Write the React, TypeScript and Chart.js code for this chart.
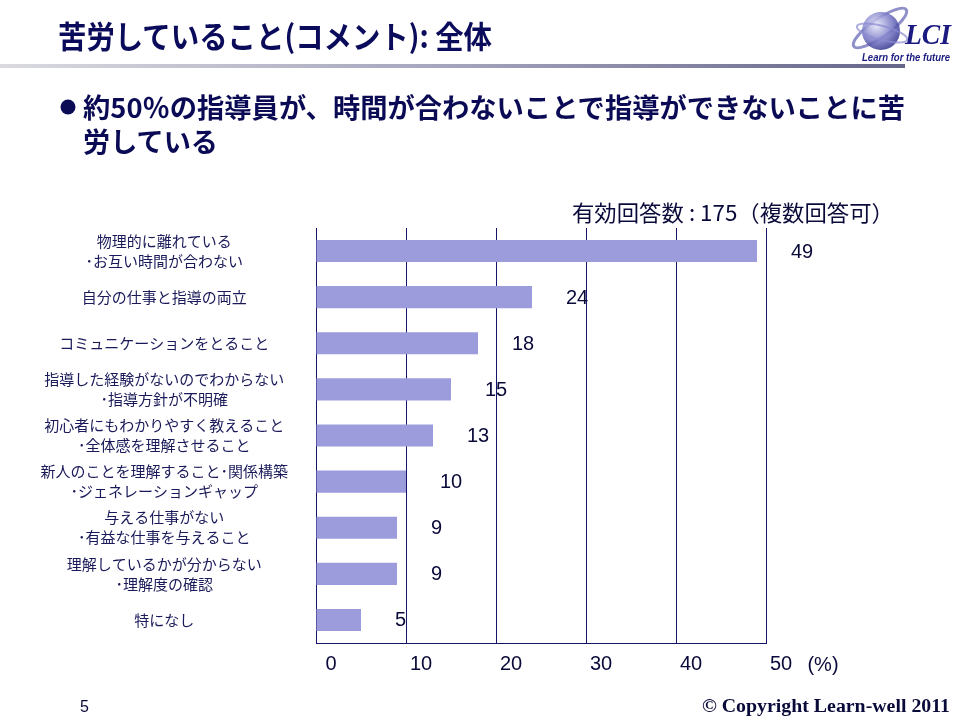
import React, { useEffect, useRef } from "react";
import { Chart, registerables } from "chart.js";

Chart.register(...registerables);

const categories: string[][] = [
  ["物理的に離れている", "･お互い時間が合わない"],
  ["自分の仕事と指導の両立"],
  ["コミュニケーションをとること"],
  ["指導した経験がないのでわからない", "･指導方針が不明確"],
  ["初心者にもわかりやすく教えること", "･全体感を理解させること"],
  ["新人のことを理解すること･関係構築", "･ジェネレーションギャップ"],
  ["与える仕事がない", "･有益な仕事を与えること"],
  ["理解しているかが分からない", "･理解度の確認"],
  ["特になし"],
];
const values: number[] = [49, 24, 18, 15, 13, 10, 9, 9, 5];
const xMin = 0;
const xMax = 50;
const xStep = 10;
const unitLabel = "(%)";
const titleText = "苦労していること(コメント): 全体";
const bulletLine1 = "約50％の指導員が、時間が合わないことで指導ができないことに苦";
const bulletLine2 = "労している";
const noteText = "有効回答数 : 175（複数回答可）";
const pageNumber = "5";
const copyrightText = "© Copyright Learn-well 2011";

const NAVY = "#14146a";
const BAR = "#9c9cdc";
const CJK = '"Noto Sans CJK JP", "Noto Sans", sans-serif';
const SANS = '"Liberation Sans", Arial, sans-serif';

const labelPlugin = {
  id: "valueLabels",
  afterDatasetsDraw(chart: any) {
    const ctx = chart.ctx;
    const meta = chart.getDatasetMeta(0);
    ctx.save();
    ctx.font = `20px ${SANS}`;
    ctx.fillStyle = "#0a0a3a";
    ctx.textAlign = "left";
    ctx.textBaseline = "middle";
    meta.data.forEach((bar: any, i: number) => {
      ctx.fillText(String(values[i]), bar.x + 34, bar.y + 1);
    });
    const xs = chart.scales.x;
    ctx.textAlign = "center";
    ctx.fillText(unitLabel, xs.getPixelForValue(xMax) + 57, xs.top + 22);
    ctx.restore();
  },
};

export default function App() {
  const ref = useRef<HTMLCanvasElement | null>(null);
  useEffect(() => {
    if (!ref.current) return;
    const chart = new Chart(ref.current, {
      type: "bar",
      data: {
        labels: categories,
        datasets: [
          {
            data: values,
            backgroundColor: BAR,
            borderWidth: 0,
            categoryPercentage: 1,
            barPercentage: 0.48,
          },
        ],
      },
      options: {
        indexAxis: "y",
        responsive: false,
        animation: false,
        devicePixelRatio: 1,
        layout: { padding: { left: 0, right: 194, top: 228, bottom: 27 } },
        plugins: {
          legend: { display: false },
          tooltip: { enabled: false },
        },
        scales: {
          x: {
            min: xMin,
            max: xMax,
            ticks: {
              stepSize: xStep,
              labelOffset: 15,
              padding: 9,
              color: "#0a0a3a",
              font: { family: SANS, size: 20 },
              maxRotation: 0,
            },
            grid: { color: NAVY, lineWidth: 1, drawTicks: false },
            border: { display: true, color: NAVY, width: 1 },
            afterFit: (s: any) => {
              s.height = 50;
            },
          },
          y: {
            ticks: {
              crossAlign: "center",
              padding: 28,
              color: "#1a1a5a",
              font: { family: CJK, size: 15, lineHeight: 1.33 },
              autoSkip: false,
            },
            grid: { display: false, drawTicks: false },
            border: { display: true, color: NAVY, width: 1 },
            afterFit: (s: any) => {
              s.width = 316;
            },
          },
        },
      } as any,
      plugins: [labelPlugin],
    });
    return () => chart.destroy();
  }, []);

  return (
    <div
      style={{
        position: "fixed",
        left: 0,
        top: 0,
        width: 960,
        height: 720,
        background: "#ffffff",
        overflow: "hidden",
      }}
    >
      <canvas
        ref={ref}
        width={960}
        height={720}
        style={{ position: "absolute", left: 0, top: 0, width: 960, height: 720 }}
      />
      <div
        style={{
          position: "absolute",
          left: 0,
          top: 64,
          width: 905,
          height: 4,
          background: "linear-gradient(to right, #dadae0, #a4a4bc 50%, #65658a)",
        }}
      />
      <svg
        width={960}
        height={720}
        style={{ position: "absolute", left: 0, top: 0, pointerEvents: "none" }}
      >
        <defs>
          <radialGradient id="sph" cx="38%" cy="35%" r="65%">
            <stop offset="0" stopColor="#e6e6fa" />
            <stop offset="0.6" stopColor="#7c7cc8" />
            <stop offset="1" stopColor="#3a3a96" />
          </radialGradient>
        </defs>
        <text
          x={58}
          y={48}
          fontFamily={CJK}
          fontWeight="bold"
          fontSize={31}
          fill="#0b0b5b"
          textLength={434}
          lengthAdjust="spacingAndGlyphs"
        >
          {titleText}
        </text>
        <g transform="translate(848,0)">
          <ellipse cx={32} cy={28} rx={32} ry={9} transform="rotate(-35 32 28)" fill="none" stroke="#6a6ab8" strokeWidth={3} opacity={0.75} />
          <circle cx={33} cy={31} r={19} fill="url(#sph)" opacity={0.85} />
          <ellipse cx={34} cy={33} rx={26} ry={7} transform="rotate(15 34 33)" fill="none" stroke="#8a8ad0" strokeWidth={2} opacity={0.7} />
          <text x={57} y={44} fontFamily='"Liberation Serif", serif' fontStyle="italic" fontWeight="bold" fontSize={30} fill="#1a1a80" textLength={46} lengthAdjust="spacingAndGlyphs">LCI</text>
          <text x={14} y={61} fontFamily={SANS} fontStyle="italic" fontWeight="bold" fontSize={10} fill="#1a1a80" textLength={88} lengthAdjust="spacingAndGlyphs">Learn for the future</text>
        </g>
        <circle cx={68} cy={107} r={7.5} fill="#0a0a55" />
        <text x={83} y={118} fontFamily={CJK} fontWeight="bold" fontSize={27} fill="#0a0a55" textLength={822} lengthAdjust="spacingAndGlyphs">
          {bulletLine1}
        </text>
        <text x={83} y={152} fontFamily={CJK} fontWeight="bold" fontSize={27} fill="#0a0a55" textLength={135} lengthAdjust="spacingAndGlyphs">
          {bulletLine2}
        </text>
        <text x={572} y={221} fontFamily={CJK} fontSize={22} fill="#0a0a3a" textLength={322} lengthAdjust="spacingAndGlyphs">
          {noteText}
        </text>
        <text x={80} y={712} fontFamily={SANS} fontSize={16} fill="#0a0a3a">
          {pageNumber}
        </text>
        <text x={702} y={712} fontFamily='"Liberation Serif", serif' fontWeight="bold" fontSize={18} fill="#0a0a3a" textLength={248} lengthAdjust="spacingAndGlyphs">
          {copyrightText}
        </text>
      </svg>
    </div>
  );
}
